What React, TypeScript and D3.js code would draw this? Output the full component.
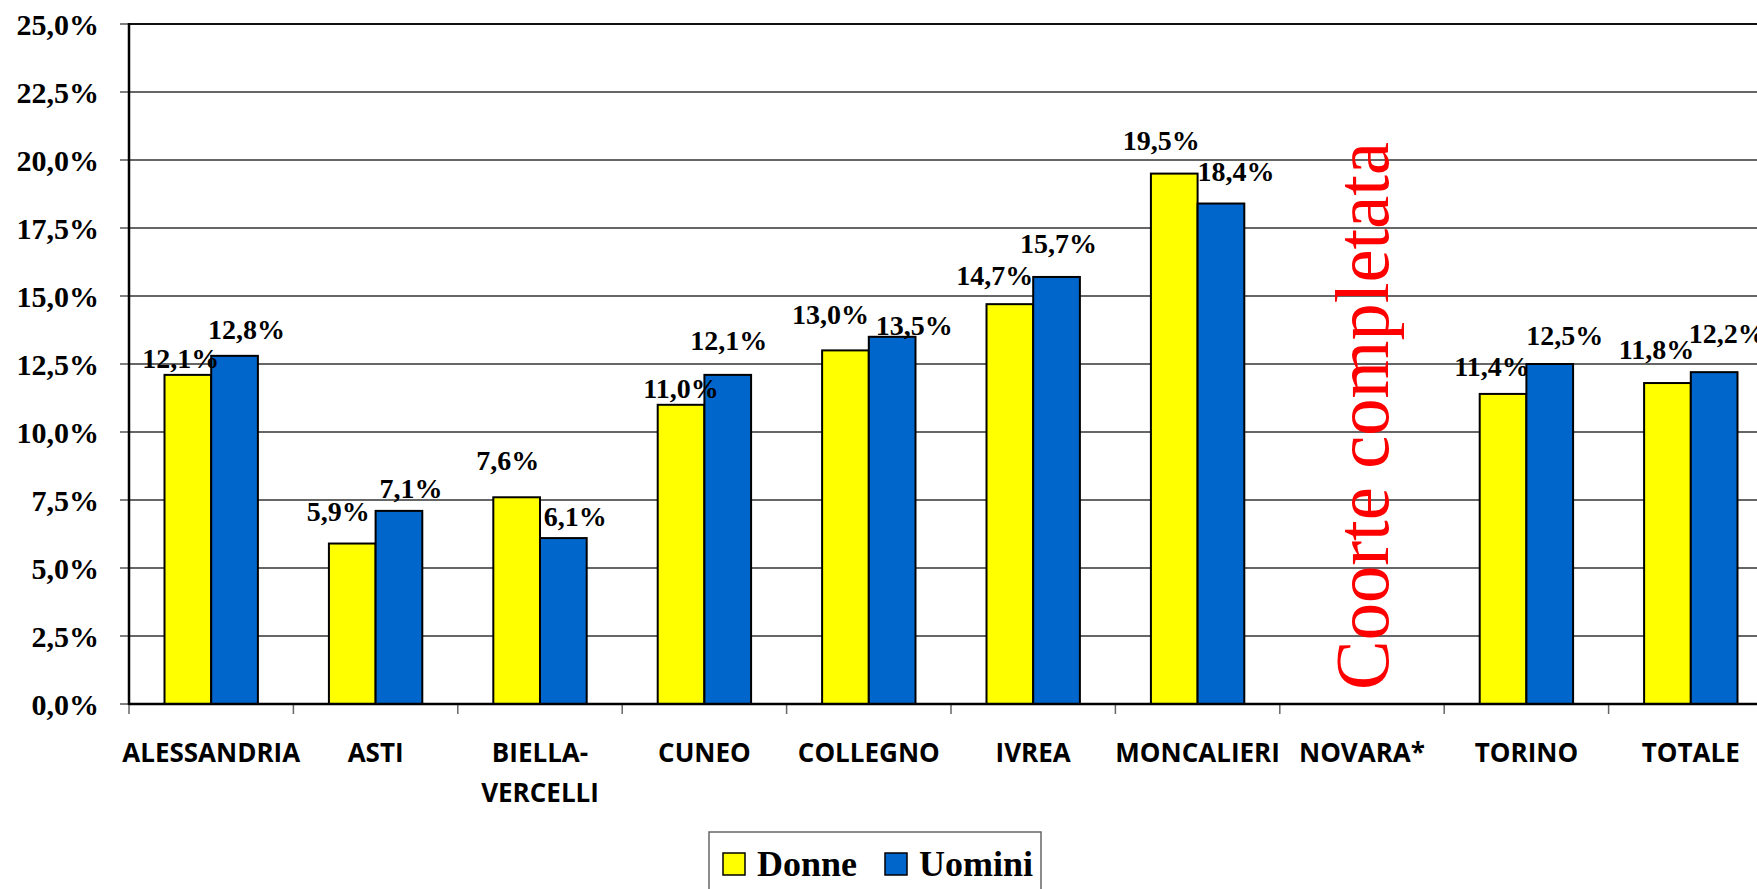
import React from "react";
import * as d3 from "d3";

const categories = ["ALESSANDRIA", "ASTI", "BIELLA-VERCELLI", "CUNEO", "COLLEGNO", "IVREA", "MONCALIERI", "NOVARA*", "TORINO", "TOTALE"];
const categoryLines = [["ALESSANDRIA"], ["ASTI"], ["BIELLA-", "VERCELLI"], ["CUNEO"], ["COLLEGNO"], ["IVREA"], ["MONCALIERI"], ["NOVARA*"], ["TORINO"], ["TOTALE"]];
const donne: (number | null)[] = [12.1, 5.9, 7.6, 11.0, 13.0, 14.7, 19.5, null, 11.4, 11.8];
const uomini: (number | null)[] = [12.8, 7.1, 6.1, 12.1, 13.5, 15.7, 18.4, null, 12.5, 12.2];
const seriesNames = ["Donne", "Uomini"];
const yTicks = [0, 2.5, 5, 7.5, 10, 12.5, 15, 17.5, 20, 22.5, 25];
const annotation = "Coorte completata";

// manual label nudges (as placed in the original), relative to the bar: [dx, dy above top]
const donneNudge = [[-7, 7], [-14, 23], [-9, 27], [0, 7], [-15, 26], [-15, 19], [-13, 24], [0, 0], [-11, 18], [-11, 24]];
const uominiNudge = [[12, 17], [12, 13], [12, 12], [1, 25], [22, 2], [2, 24], [15, 23], [0, 0], [15, 19], [13, 29]];

const W = 1757;
const H = 889;
const colors = ["#FFFF00", "#0066CC"];

const fmt = (v: number) => v.toFixed(1).replace(".", ",") + "%";

export default function App() {
  const x0 = 129;
  const step = 164.4;
  const x = d3
    .scaleBand<string>()
    .domain(categories)
    .range([x0, x0 + step * categories.length])
    .paddingInner(0.432)
    .paddingOuter(0.216);
  const inner = d3.scaleBand<string>().domain(seriesNames).range([0, x.bandwidth()]);
  const y = d3.scaleLinear().domain([0, 25]).range([704, 24]);

  const series = [donne, uomini];
  const nudges = [donneNudge, uominiNudge];

  return (
    <svg
      width={W}
      height={H}
      style={{ position: "absolute", left: 0, top: 0, display: "block", background: "#fff" }}
    >
      {/* gridlines */}
      {yTicks.map((t) => (
        <g key={t}>
          {t > 0 && (
            <line x1={x0} x2={W} y1={y(t)} y2={y(t)} stroke={t === 25 ? "#111" : "#333"} strokeWidth={t === 25 ? 2 : 1.5} />
          )}
          <line x1={120} x2={x0} y1={y(t)} y2={y(t)} stroke="#555" strokeWidth={1.5} />
          <text
            x={99}
            y={y(t) + 11}
            textAnchor="end"
            fontFamily="'Liberation Serif', 'Times New Roman', serif"
            fontWeight="bold"
            fontSize={30}
            fill="#000"
          >
            {fmt(t)}
          </text>
        </g>
      ))}

      {/* category ticks */}
      {categories.map((c, i) => (
        <line key={c} x1={x0 + i * step} x2={x0 + i * step} y1={y(0)} y2={y(0) + 10} stroke="#666" strokeWidth={1.5} />
      ))}

      {/* bars */}
      {series.map((vals, si) =>
        vals.map((v, i) =>
          v == null ? null : (
            <rect
              key={`${si}-${i}`}
              x={(x(categories[i]) as number) + (inner(seriesNames[si]) as number)}
              y={y(v)}
              width={inner.bandwidth()}
              height={y(0) - y(v)}
              fill={colors[si]}
              stroke="#000"
              strokeWidth={2}
            />
          )
        )
      )}

      {/* axes */}
      <line x1={x0} x2={x0} y1={y(25) - 1} y2={y(0) + 1} stroke="#000" strokeWidth={2.5} />
      <line x1={x0} x2={W} y1={y(0)} y2={y(0)} stroke="#000" strokeWidth={2.5} />

      {/* data labels */}
      {series.map((vals, si) =>
        vals.map((v, i) => {
          if (v == null) return null;
          const cx = (x(categories[i]) as number) + (inner(seriesNames[si]) as number) + inner.bandwidth() / 2;
          const [dx, dy] = nudges[si][i];
          return (
            <text
              key={`l-${si}-${i}`}
              x={cx + dx}
              y={y(v) - dy}
              textAnchor="middle"
              fontFamily="'Liberation Serif', 'Times New Roman', serif"
              fontWeight="bold"
              fontSize={28}
              fill="#000"
            >
              {fmt(v)}
            </text>
          );
        })
      )}

      {/* category labels */}
      {categories.map((c, i) => (
        <text
          key={`c-${c}`}
          x={(x(c) as number) + x.bandwidth() / 2}
          y={762}
          textAnchor="middle"
          fontFamily="'Open Sans', sans-serif"
          fontWeight="bold"
          fontSize={26}
          fill="#000"
        >
          {categoryLines[i].map((ln, k) => (
            <tspan key={k} x={(x(c) as number) + x.bandwidth() / 2} dy={k === 0 ? 0 : 40}>
              {ln}
            </tspan>
          ))}
        </text>
      ))}

      {/* annotation */}
      <text
        transform={`translate(1388, 416) rotate(-90)`}
        textAnchor="middle"
        fontFamily="'Liberation Serif', 'Times New Roman', serif"
        fontSize={77}
        fill="#FF0000"
        textLength={548}
        lengthAdjust="spacingAndGlyphs"
      >
        {annotation}
      </text>

      {/* legend */}
      <g>
        <rect x={709} y={832} width={332} height={70} fill="#fff" stroke="#666" strokeWidth={1.5} />
        {seriesNames.map((s, i) => {
          const lx = i === 0 ? 723 : 885;
          return (
            <g key={s}>
              <rect x={lx} y={853} width={22} height={22} fill={colors[i]} stroke="#000" strokeWidth={1.5} />
              <text
                x={lx + 34}
                y={876}
                fontFamily="'Liberation Serif', 'Times New Roman', serif"
                fontWeight="bold"
                fontSize={36}
                fill="#000"
              >
                {s}
              </text>
            </g>
          );
        })}
      </g>
    </svg>
  );
}
